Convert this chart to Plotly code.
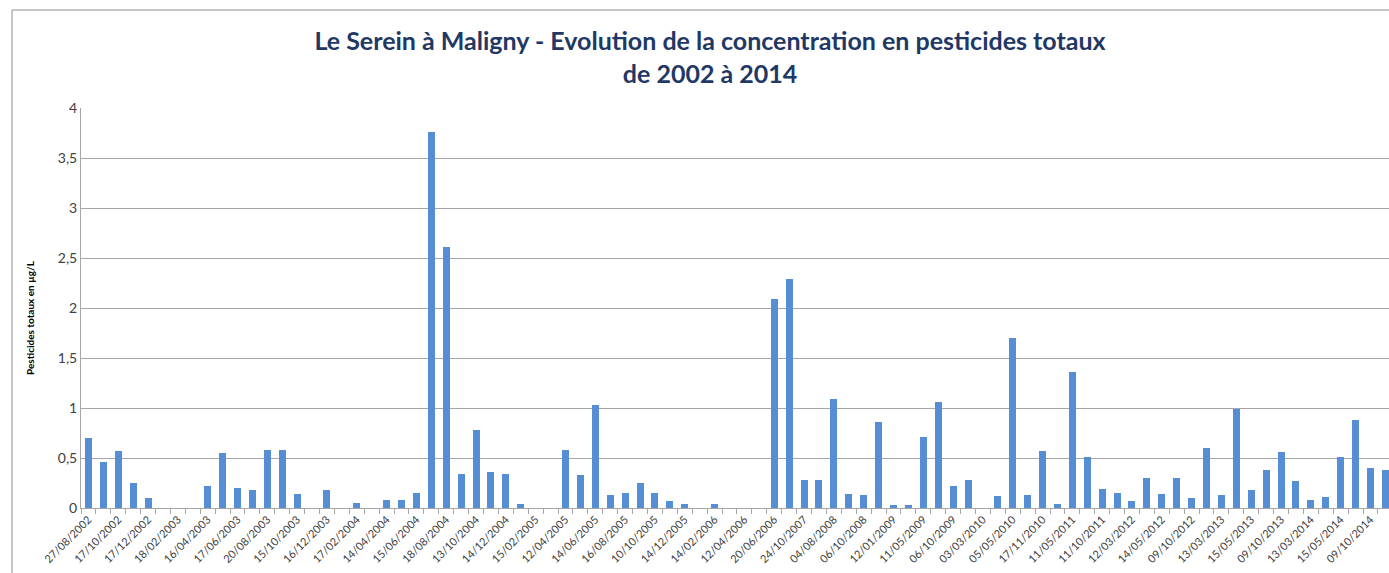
import plotly.graph_objects as go

# Visible tick labels (one every second sample)
tick_labels = [
    "27/08/2002", "17/10/2002", "17/12/2002", "18/02/2003", "16/04/2003", "17/06/2003",
    "20/08/2003", "15/10/2003", "16/12/2003", "17/02/2004", "14/04/2004", "15/06/2004",
    "18/08/2004", "13/10/2004", "14/12/2004", "15/02/2005", "12/04/2005", "14/06/2005",
    "16/08/2005", "10/10/2005", "14/12/2005", "14/02/2006", "12/04/2006", "20/06/2006",
    "24/10/2007", "04/08/2008", "06/10/2008", "12/01/2009", "11/05/2009", "06/10/2009",
    "03/03/2010", "05/05/2010", "17/11/2010", "11/05/2011", "11/10/2011", "12/03/2012",
    "14/05/2012", "09/10/2012", "13/03/2013", "15/05/2013", "09/10/2013", "13/03/2014",
    "15/05/2014", "09/10/2014",
]

# Total pesticide concentration (µg/L) for each of the 88 samples
values = [
    0.70, 0.46, 0.57, 0.25, 0.10, 0, 0, 0, 0.22, 0.55,
    0.20, 0.18, 0.58, 0.58, 0.14, 0, 0.18, 0, 0.05, 0,
    0.08, 0.08, 0.15, 3.76, 2.61, 0.34, 0.78, 0.36, 0.34, 0.04,
    0, 0, 0.58, 0.33, 1.03, 0.13, 0.15, 0.25, 0.15, 0.07,
    0.04, 0, 0.04, 0, 0, 0, 2.09, 2.29, 0.28, 0.28,
    1.09, 0.14, 0.13, 0.86, 0.03, 0.03, 0.71, 1.06, 0.22, 0.28,
    0, 0.12, 1.70, 0.13, 0.57, 0.04, 1.36, 0.51, 0.19, 0.15,
    0.07, 0.30, 0.14, 0.30, 0.10, 0.60, 0.13, 0.99, 0.18, 0.38,
    0.56, 0.27, 0.08, 0.11, 0.51, 0.88, 0.40, 0.38,
]

title_text = ("<b>Le Serein à Maligny - Evolution de la concentration en pesticides totaux"
              "<br>de 2002 à 2014</b>")
y_title = "<b>Pesticides totaux en µg/L</b>"

x_idx = list(range(len(values)))
tick_pos = x_idx[::2]

W, H = 1389, 573
ml, mr, mt, mb = 81, 0, 108, 65
pw = W - ml - mr
ph = H - mt - mb

fig = go.Figure()
fig.add_trace(go.Bar(
    x=x_idx, y=values, width=0.47,
    marker=dict(color="#558ED5", line=dict(width=0)),
    hoverinfo="y",
))

fig.update_layout(
    width=W, height=H,
    margin=dict(l=ml, r=mr, t=mt, b=mb),
    paper_bgcolor="white", plot_bgcolor="white",
    separators=", ",
    showlegend=False,
    font=dict(family="Lato, Carlito, 'Open Sans', sans-serif", color="#404040"),
    title=dict(
        text=title_text, x=710 / W, xanchor="center", y=1 - 50 / H, yanchor="middle",
        font=dict(size=25, color="#1F3864", family="Lato, Carlito, sans-serif"),
    ),
    bargap=0,
    xaxis=dict(
        range=[-0.5, len(values) - 0.76],
        tickmode="array", tickvals=tick_pos, ticktext=tick_labels,
        tickangle=-45, tickfont=dict(size=11, color="#404040"),
        ticks="", showgrid=False, zeroline=False,
        showline=True, linecolor="#A6A6A6", linewidth=1,
        minor=dict(tick0=0.5, dtick=1, ticks="outside", ticklen=5,
                   tickcolor="#A6A6A6", showgrid=False),
    ),
    yaxis=dict(
        range=[0, 4], dtick=0.5, tickformat=".1~f",
        tickfont=dict(size=14, color="#404040"),
        showgrid=True, gridcolor="#A6A6A6", gridwidth=1,
        zeroline=False, showline=True, linecolor="#A6A6A6", linewidth=1,
        ticks="", ticklen=0,
    ),
    annotations=[dict(
        text=y_title, textangle=-90, showarrow=False,
        xref="paper", yref="paper",
        x=(30 - ml) / pw, y=(H - mb - 318) / ph,
        xanchor="center", yanchor="middle",
        font=dict(size=10, color="#000000", family="Lato, Carlito, sans-serif"),
    )],
    shapes=[
        dict(type="line", xref="paper", yref="paper",
             x0=(12 - ml) / pw, x1=(12 - ml) / pw,
             y0=(H - mb - 10) / ph, y1=(H - mb - 575) / ph,
             line=dict(color="#8C8C8C", width=1)),
        dict(type="line", xref="paper", yref="paper",
             x0=(12 - ml) / pw, x1=1.0,
             y0=(H - mb - 10) / ph, y1=(H - mb - 10) / ph,
             line=dict(color="#8C8C8C", width=1)),
    ],
)

fig.write_html(
    "out.html",
    config={"displayModeBar": False},
    post_script="document.body.style.margin='0px';document.body.style.overflow='hidden';",
)
